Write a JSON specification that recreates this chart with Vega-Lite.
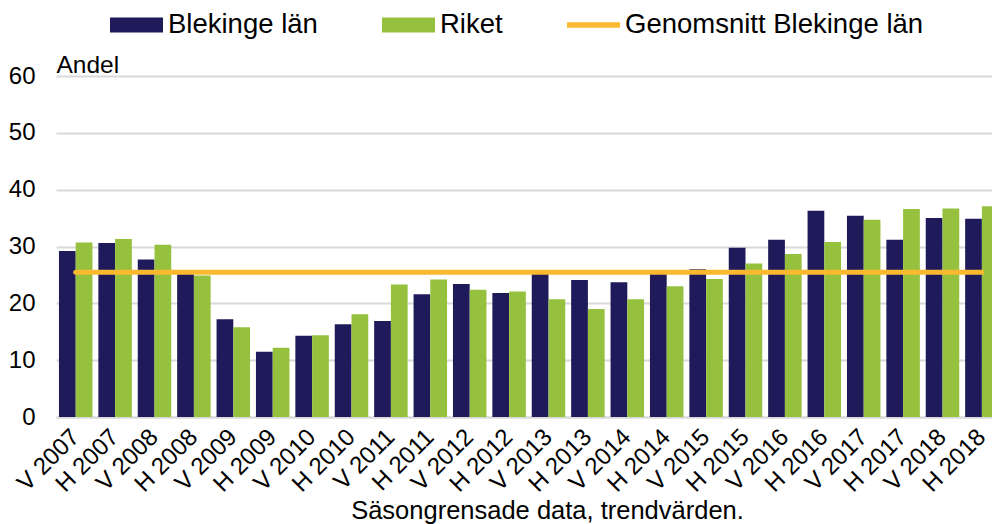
{
  "$schema": "https://vega.github.io/schema/vega-lite/v6.json",
  "width": 936,
  "height": 341,
  "autosize": {"type": "none"},
  "padding": {"left": 56, "top": 76, "right": 0, "bottom": 107},
  "background": "white",
  "config": {
    "view": {"stroke": null},
    "font": "Liberation Sans",
    "axis": {"labelFont": "Liberation Sans", "titleFont": "Liberation Sans", "labelColor": "#000000", "titleColor": "#000000"},
    "legend": {"labelFont": "Liberation Sans"}
  },
  "datasets": {
    "bars": [
      {"period": "V 2007", "series": "Blekinge län", "value": 29.2}, {"period": "V 2007", "series": "Riket", "value": 30.7},
      {"period": "H 2007", "series": "Blekinge län", "value": 30.6}, {"period": "H 2007", "series": "Riket", "value": 31.3},
      {"period": "V 2008", "series": "Blekinge län", "value": 27.7}, {"period": "V 2008", "series": "Riket", "value": 30.3},
      {"period": "H 2008", "series": "Blekinge län", "value": 25.6}, {"period": "H 2008", "series": "Riket", "value": 24.9},
      {"period": "V 2009", "series": "Blekinge län", "value": 17.2}, {"period": "V 2009", "series": "Riket", "value": 15.8},
      {"period": "H 2009", "series": "Blekinge län", "value": 11.5}, {"period": "H 2009", "series": "Riket", "value": 12.2},
      {"period": "V 2010", "series": "Blekinge län", "value": 14.3}, {"period": "V 2010", "series": "Riket", "value": 14.4},
      {"period": "H 2010", "series": "Blekinge län", "value": 16.3}, {"period": "H 2010", "series": "Riket", "value": 18.1},
      {"period": "V 2011", "series": "Blekinge län", "value": 16.9}, {"period": "V 2011", "series": "Riket", "value": 23.3},
      {"period": "H 2011", "series": "Blekinge län", "value": 21.6}, {"period": "H 2011", "series": "Riket", "value": 24.2},
      {"period": "V 2012", "series": "Blekinge län", "value": 23.4}, {"period": "V 2012", "series": "Riket", "value": 22.4},
      {"period": "H 2012", "series": "Blekinge län", "value": 21.8}, {"period": "H 2012", "series": "Riket", "value": 22.1},
      {"period": "V 2013", "series": "Blekinge län", "value": 25.8}, {"period": "V 2013", "series": "Riket", "value": 20.7},
      {"period": "H 2013", "series": "Blekinge län", "value": 24.1}, {"period": "H 2013", "series": "Riket", "value": 19.0},
      {"period": "V 2014", "series": "Blekinge län", "value": 23.7}, {"period": "V 2014", "series": "Riket", "value": 20.7},
      {"period": "H 2014", "series": "Blekinge län", "value": 25.7}, {"period": "H 2014", "series": "Riket", "value": 23.0},
      {"period": "V 2015", "series": "Blekinge län", "value": 26.0}, {"period": "V 2015", "series": "Riket", "value": 24.3},
      {"period": "H 2015", "series": "Blekinge län", "value": 29.8}, {"period": "H 2015", "series": "Riket", "value": 27.0},
      {"period": "V 2016", "series": "Blekinge län", "value": 31.2}, {"period": "V 2016", "series": "Riket", "value": 28.7},
      {"period": "H 2016", "series": "Blekinge län", "value": 36.3}, {"period": "H 2016", "series": "Riket", "value": 30.8},
      {"period": "V 2017", "series": "Blekinge län", "value": 35.4}, {"period": "V 2017", "series": "Riket", "value": 34.7},
      {"period": "H 2017", "series": "Blekinge län", "value": 31.2}, {"period": "H 2017", "series": "Riket", "value": 36.6},
      {"period": "V 2018", "series": "Blekinge län", "value": 35.0}, {"period": "V 2018", "series": "Riket", "value": 36.7},
      {"period": "H 2018", "series": "Blekinge län", "value": 34.9}, {"period": "H 2018", "series": "Riket", "value": 37.1}
    ],
    "avg": [
      {"period": "V 2007", "value": 25.45}, {"period": "H 2007", "value": 25.45},
      {"period": "V 2008", "value": 25.45}, {"period": "H 2008", "value": 25.45},
      {"period": "V 2009", "value": 25.45}, {"period": "H 2009", "value": 25.45},
      {"period": "V 2010", "value": 25.45}, {"period": "H 2010", "value": 25.45},
      {"period": "V 2011", "value": 25.45}, {"period": "H 2011", "value": 25.45},
      {"period": "V 2012", "value": 25.45}, {"period": "H 2012", "value": 25.45},
      {"period": "V 2013", "value": 25.45}, {"period": "H 2013", "value": 25.45},
      {"period": "V 2014", "value": 25.45}, {"period": "H 2014", "value": 25.45},
      {"period": "V 2015", "value": 25.45}, {"period": "H 2015", "value": 25.45},
      {"period": "V 2016", "value": 25.45}, {"period": "H 2016", "value": 25.45},
      {"period": "V 2017", "value": 25.45}, {"period": "H 2017", "value": 25.45},
      {"period": "V 2018", "value": 25.45}, {"period": "H 2018", "value": 25.45}
    ]
  },
  "layer": [
    {
      "data": {"name": "bars"},
      "mark": {"type": "bar"},
      "encoding": {
        "x": {
          "field": "period", "type": "nominal", "sort": null,
          "scale": {"range": [0, 945.6], "paddingInner": 0.15, "paddingOuter": 0.075},
          "axis": {
            "title": "Säsongrensade data, trendvärden.",
            "titleFontSize": 25.5, "titleFontWeight": "normal",
            "titleX": 491, "titleY": 101, "titleAlign": "center", "titleBaseline": "alphabetic",
            "labelAngle": -45, "labelAlign": "right", "labelBaseline": "middle",
            "labelFontSize": 24, "labelPadding": 16,
            "ticks": false, "domainColor": "#d9d9d9", "domainWidth": 2,
            "grid": false
          }
        },
        "xOffset": {"field": "series", "type": "nominal", "sort": ["Blekinge län", "Riket"]},
        "y": {
          "field": "value", "type": "quantitative",
          "scale": {"domain": [0, 60]},
          "axis": {
            "title": "Andel", "titleAngle": 0, "titleFontSize": 24.5, "titleFontWeight": "normal",
            "titleX": 0, "titleY": -4, "titleAlign": "left", "titleBaseline": "alphabetic",
            "values": [0, 10, 20, 30, 40, 50, 60],
            "labelFontSize": 24, "labelPadding": 21,
            "ticks": false, "domain": false,
            "gridColor": "#d9d9d9", "gridWidth": 2
          }
        },
        "color": {
          "field": "series", "type": "nominal",
          "scale": {
            "domain": ["Blekinge län", "Riket", "Genomsnitt Blekinge län"],
            "range": ["#1F1B5A", "#95C13E", "#FBB930"]
          },
          "legend": {
            "title": null,
            "orient": "none",
            "legendX": 54,
            "legendY": -77.5,
            "direction": "horizontal",
            "labelFontSize": 27.5,
            "labelLimit": 500,
            "labelColor": "#000000",
            "labelOffset": 5,
            "columnPadding": 64,
            "symbolSize": 2809,
            "symbolType": "M-1,-0.28H1V0.28H-1Z",
            "symbolStrokeWidth": 0,
            "encode": {
              "symbols": {
                "update": {
                  "shape": [
                    {"test": "datum.label === 'Genomsnitt Blekinge län'", "value": "M-1,-0.1H1V0.1H-1Z"},
                    {"value": "M-1,-0.28H1V0.28H-1Z"}
                  ],
                  "strokeWidth": {"value": 0}
                }
              }
            }
          }
        }
      }
    },
    {
      "data": {"name": "avg"},
      "mark": {"type": "line", "strokeWidth": 5, "strokeCap": "round"},
      "encoding": {
        "x": {"field": "period", "type": "nominal", "sort": null},
        "y": {"field": "value", "type": "quantitative"},
        "color": {"datum": "Genomsnitt Blekinge län"}
      }
    }
  ]
}
